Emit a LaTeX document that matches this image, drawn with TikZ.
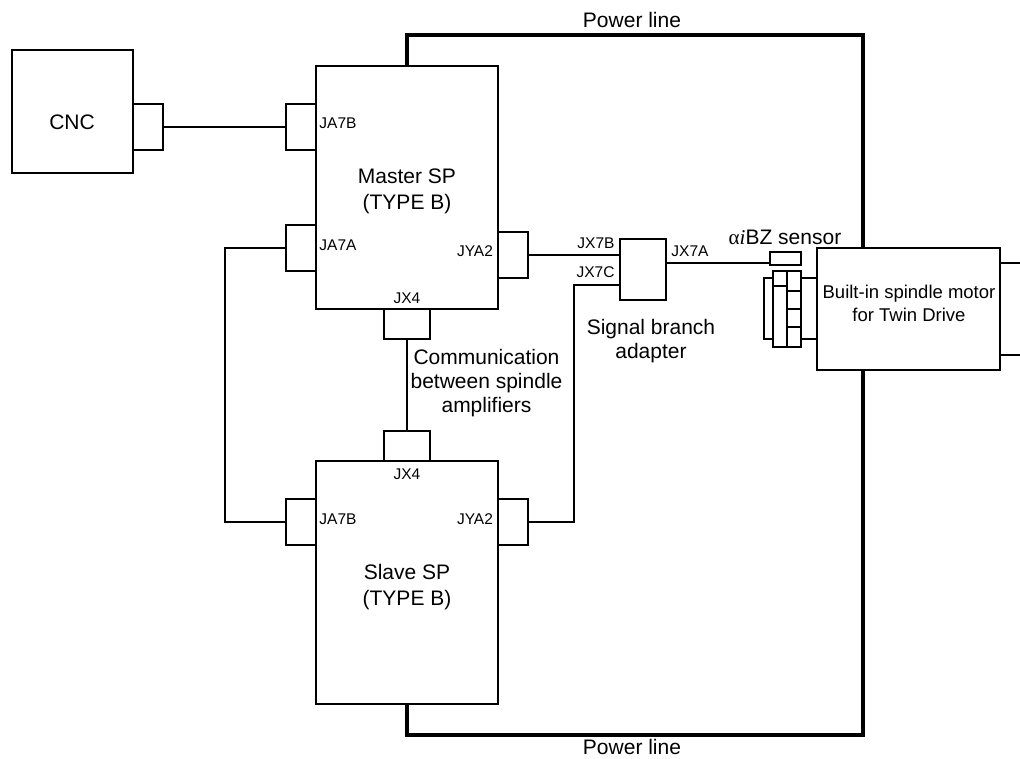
\documentclass[tikz,border=0pt]{standalone}
\usepackage{fontspec}
\setmainfont{Liberation Sans}
\newfontfamily\greekfont{Liberation Serif}
\usetikzlibrary{positioning,backgrounds}

\begin{document}
\begin{tikzpicture}[x=1pt, y=-1pt, line width=1.5pt, line cap=rect, outer sep=0pt]
  \tikzstyle{box} = [rectangle, draw, fill=white, inner sep=0pt]
  \tikzstyle{amp} = [box, minimum width=182pt, minimum height=243pt]
  \tikzstyle{port} = [box, minimum width=30pt, minimum height=46pt]
  \tikzstyle{portv} = [box, minimum width=46pt, minimum height=30pt]
  \tikzstyle{pin} = [inner sep=0pt, font=\fontsize{15.5}{18}\selectfont]
  \tikzstyle{note} = [inner sep=0pt, align=center, font=\fontsize{21}{24}\selectfont]
  \useasboundingbox (0,0) rectangle (1020,758);

  \node[box, minimum width=121pt, minimum height=123pt] (cnc) at (72.5,111.5) {};
  \node[port, anchor=west] (cnc_port) at (cnc.east |- 0,127) {};

  \node[amp] (master) at (407,187.5) {};
  \node[amp, below=152pt of master] (slave) {};

  \node[port, anchor=east] (m_ja7b) at (master.west |- 0,127) {};
  \node[port, anchor=east] (m_ja7a) at (master.west |- 0,248) {};
  \node[port, anchor=west] (m_jya2) at (master.east |- 0,255) {};
  \node[portv, below=0pt of master] (m_jx4) {};
  \node[portv, above=0pt of slave] (s_jx4) {};
  \node[port, anchor=east] (s_ja7b) at (slave.west |- 0,522) {};
  \node[port, anchor=west] (s_jya2) at (slave.east |- 0,522) {};

  \node[box, minimum width=46pt, minimum height=61pt] (adapter) at (643,269.5) {};
  \node[box, minimum width=183pt, minimum height=122pt] (motor) at (908.5,309) {};
  \node[box, minimum width=31pt, minimum height=13pt] (sensor) at (785.5,258.5) {};

  % spindle end of the motor
  \node[box, minimum width=9pt, minimum height=61pt] (cap) at (768.5,308.5) {};
  \node[box, minimum width=14pt, minimum height=76pt] (ring) at (780,309) {};
  \node[box, minimum width=14pt, minimum height=76pt] (gear) at (794,309) {};
  \coordinate (shaft_a) at (801,278);
  \coordinate (shaft_b) at (801,339);
  \coordinate (tail_a) at (1020,263);
  \coordinate (tail_b) at (1020,355);
  \coordinate (pw_a) at (863,35);
  \coordinate (pw_b) at (863,735);
  \coordinate (mid) at (574,285);
  \coordinate (loop) at (225,248);

  \node[note] (cnc_txt) at (72,122) {CNC};
  \node[note, font=\fontsize{21}{26}\selectfont] (master_txt) at (407,191.5) {Master SP\\(TYPE B)};
  \node[note, font=\fontsize{21}{26}\selectfont] (slave_txt) at (407,587) {Slave SP\\(TYPE B)};
  \node[note, font=\fontsize{18.5}{23}\selectfont] (motor_txt) at (909,303.5) {Built-in spindle motor\\for Twin Drive};
  \node[note] (sensor_txt) at (785,237) {{\greekfont α\itshape i}BZ sensor};
  \node[note] (adapter_txt) at (651,341) {Signal branch\\adapter};
  \node[note] (comm_txt) at (486.5,383) {Communication\\between spindle\\amplifiers};
  \node[note] (top_txt) at (632,20) {Power line};
  \node[note] (bot_txt) at (632,747) {Power line};

  \node[pin] (ja7b_m) at (338,123) {JA7B};
  \node[pin] (ja7a_m) at (338,245) {JA7A};
  \node[pin] (jya2_m) at (475,251) {JYA2};
  \node[pin] (jx4_m) at (407,298) {JX4};
  \node[pin] (jx4_s) at (407,474) {JX4};
  \node[pin] (ja7b_s) at (338,519) {JA7B};
  \node[pin] (jya2_s) at (475,519) {JYA2};
  \node[pin] (jx7b) at (596,243) {JX7B};
  \node[pin] (jx7c) at (595.5,272) {JX7C};
  \node[pin] (jx7a) at (690,251) {JX7A};

  \begin{scope}[on background layer]
    \draw[line width=3.5pt] (master.north) |- (pw_a) -- (pw_b) -| (slave.south);
  \end{scope}

  \draw (cnc_port) -- (m_ja7b);
  \draw (m_ja7a) -| (loop |- s_ja7b) -- (s_ja7b);
  \draw (m_jya2) -- (m_jya2 -| adapter.west);
  \draw (adapter.west |- mid) -- (mid) |- (s_jya2);
  \draw (m_jx4) -- (s_jx4);
  \draw (adapter.east |- sensor.west) ++(0,4.5) -- ++(104,0);
  \draw (shaft_a) -- (shaft_a -| motor.west);
  \draw (shaft_b) -- (shaft_b -| motor.west);
  \draw (motor.east |- tail_a) -- (tail_a);
  \draw (motor.east |- tail_b) -- (tail_b);
  \draw (ring.west |- 0,286) -- (ring.east |- 0,286);
  \draw (gear.west |- 0,291) -- (gear.east |- 0,291);
  \draw (gear.west |- 0,309) -- (gear.east |- 0,309);
  \draw (gear.west |- 0,327) -- (gear.east |- 0,327);
\end{tikzpicture}
\end{document}
